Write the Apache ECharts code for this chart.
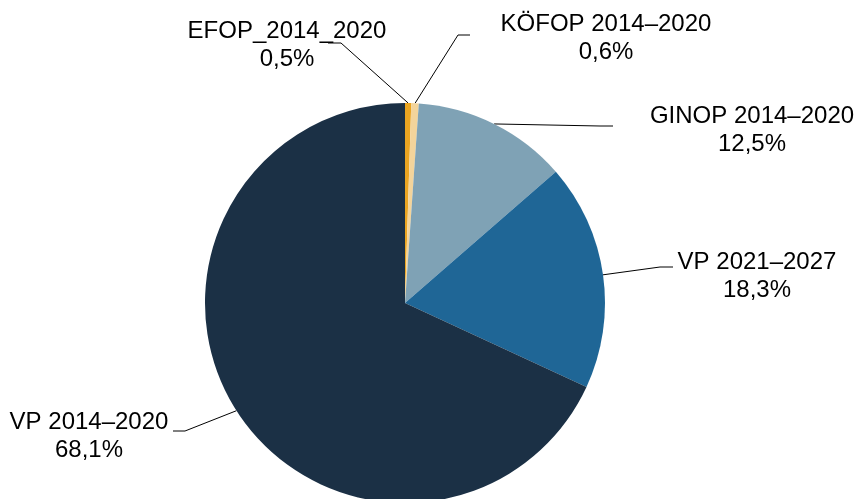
<!DOCTYPE html>
<html>
<head>
<meta charset="utf-8">
<script src="https://cdn.jsdelivr.net/npm/echarts@6/dist/echarts.min.js"></script>
<style>
  html, body { margin: 0; padding: 0; background: #fff; }
  #chart { width: 858px; height: 499px; }
</style>
</head>
<body>
<div id="chart"></div>
<script>
// Funding programmes and their share of the total (percent), clockwise from 12 o'clock
const programmes = ['EFOP_2014_2020', 'KÖFOP 2014–2020', 'GINOP 2014–2020', 'VP 2021–2027', 'VP 2014–2020'];
const shares = [0.5, 0.6, 12.5, 18.3, 68.1];
const colours = ['#EBA521', '#F3D49B', '#7FA2B5', '#1F6696', '#1B3045'];

// Label placement: label centre plus elbow/end of each leader line
const labelCentres = [[287, 45], [606, 38], [752, 130], [757, 276], [89, 436]];
const leaderElbows = [[341, 43], [458, 35], [600, 126], [660, 267], [185, 431]];
const leaderEnds = [[328, 43], [470, 35], [613, 126], [673, 267], [173, 431]];

const fmt = v => v.toFixed(1).replace('.', ',') + '%';

const chart = echarts.init(document.getElementById('chart'), null, { renderer: 'canvas' });
chart.setOption({
  animation: false,
  backgroundColor: '#ffffff',
  series: [{
    type: 'pie',
    center: [405, 303],
    radius: 200,
    startAngle: 90,
    clockwise: true,
    avoidLabelOverlap: false,
    data: programmes.map((name, i) => ({
      name: name,
      value: shares[i],
      itemStyle: { color: colours[i] }
    })),
    label: {
      show: true,
      position: 'outside',
      formatter: p => p.name + '\n' + fmt(p.value),
      fontFamily: 'Liberation Sans, Arial, sans-serif',
      fontSize: 24,
      lineHeight: 28,
      color: '#000',
      align: 'center'
    },
    labelLine: {
      show: true,
      length: 10,
      length2: 10,
      lineStyle: { color: '#000', width: 1 }
    },
    labelLayout: params => {
      const i = params.dataIndex;
      const anchor = params.labelLinePoints ? params.labelLinePoints[0] : leaderElbows[i];
      return {
        x: labelCentres[i][0],
        y: labelCentres[i][1],
        align: 'center',
        verticalAlign: 'middle',
        labelLinePoints: [anchor, leaderElbows[i], leaderEnds[i]]
      };
    },
    emphasis: { disabled: true }
  }]
});
</script>
</body>
</html>
